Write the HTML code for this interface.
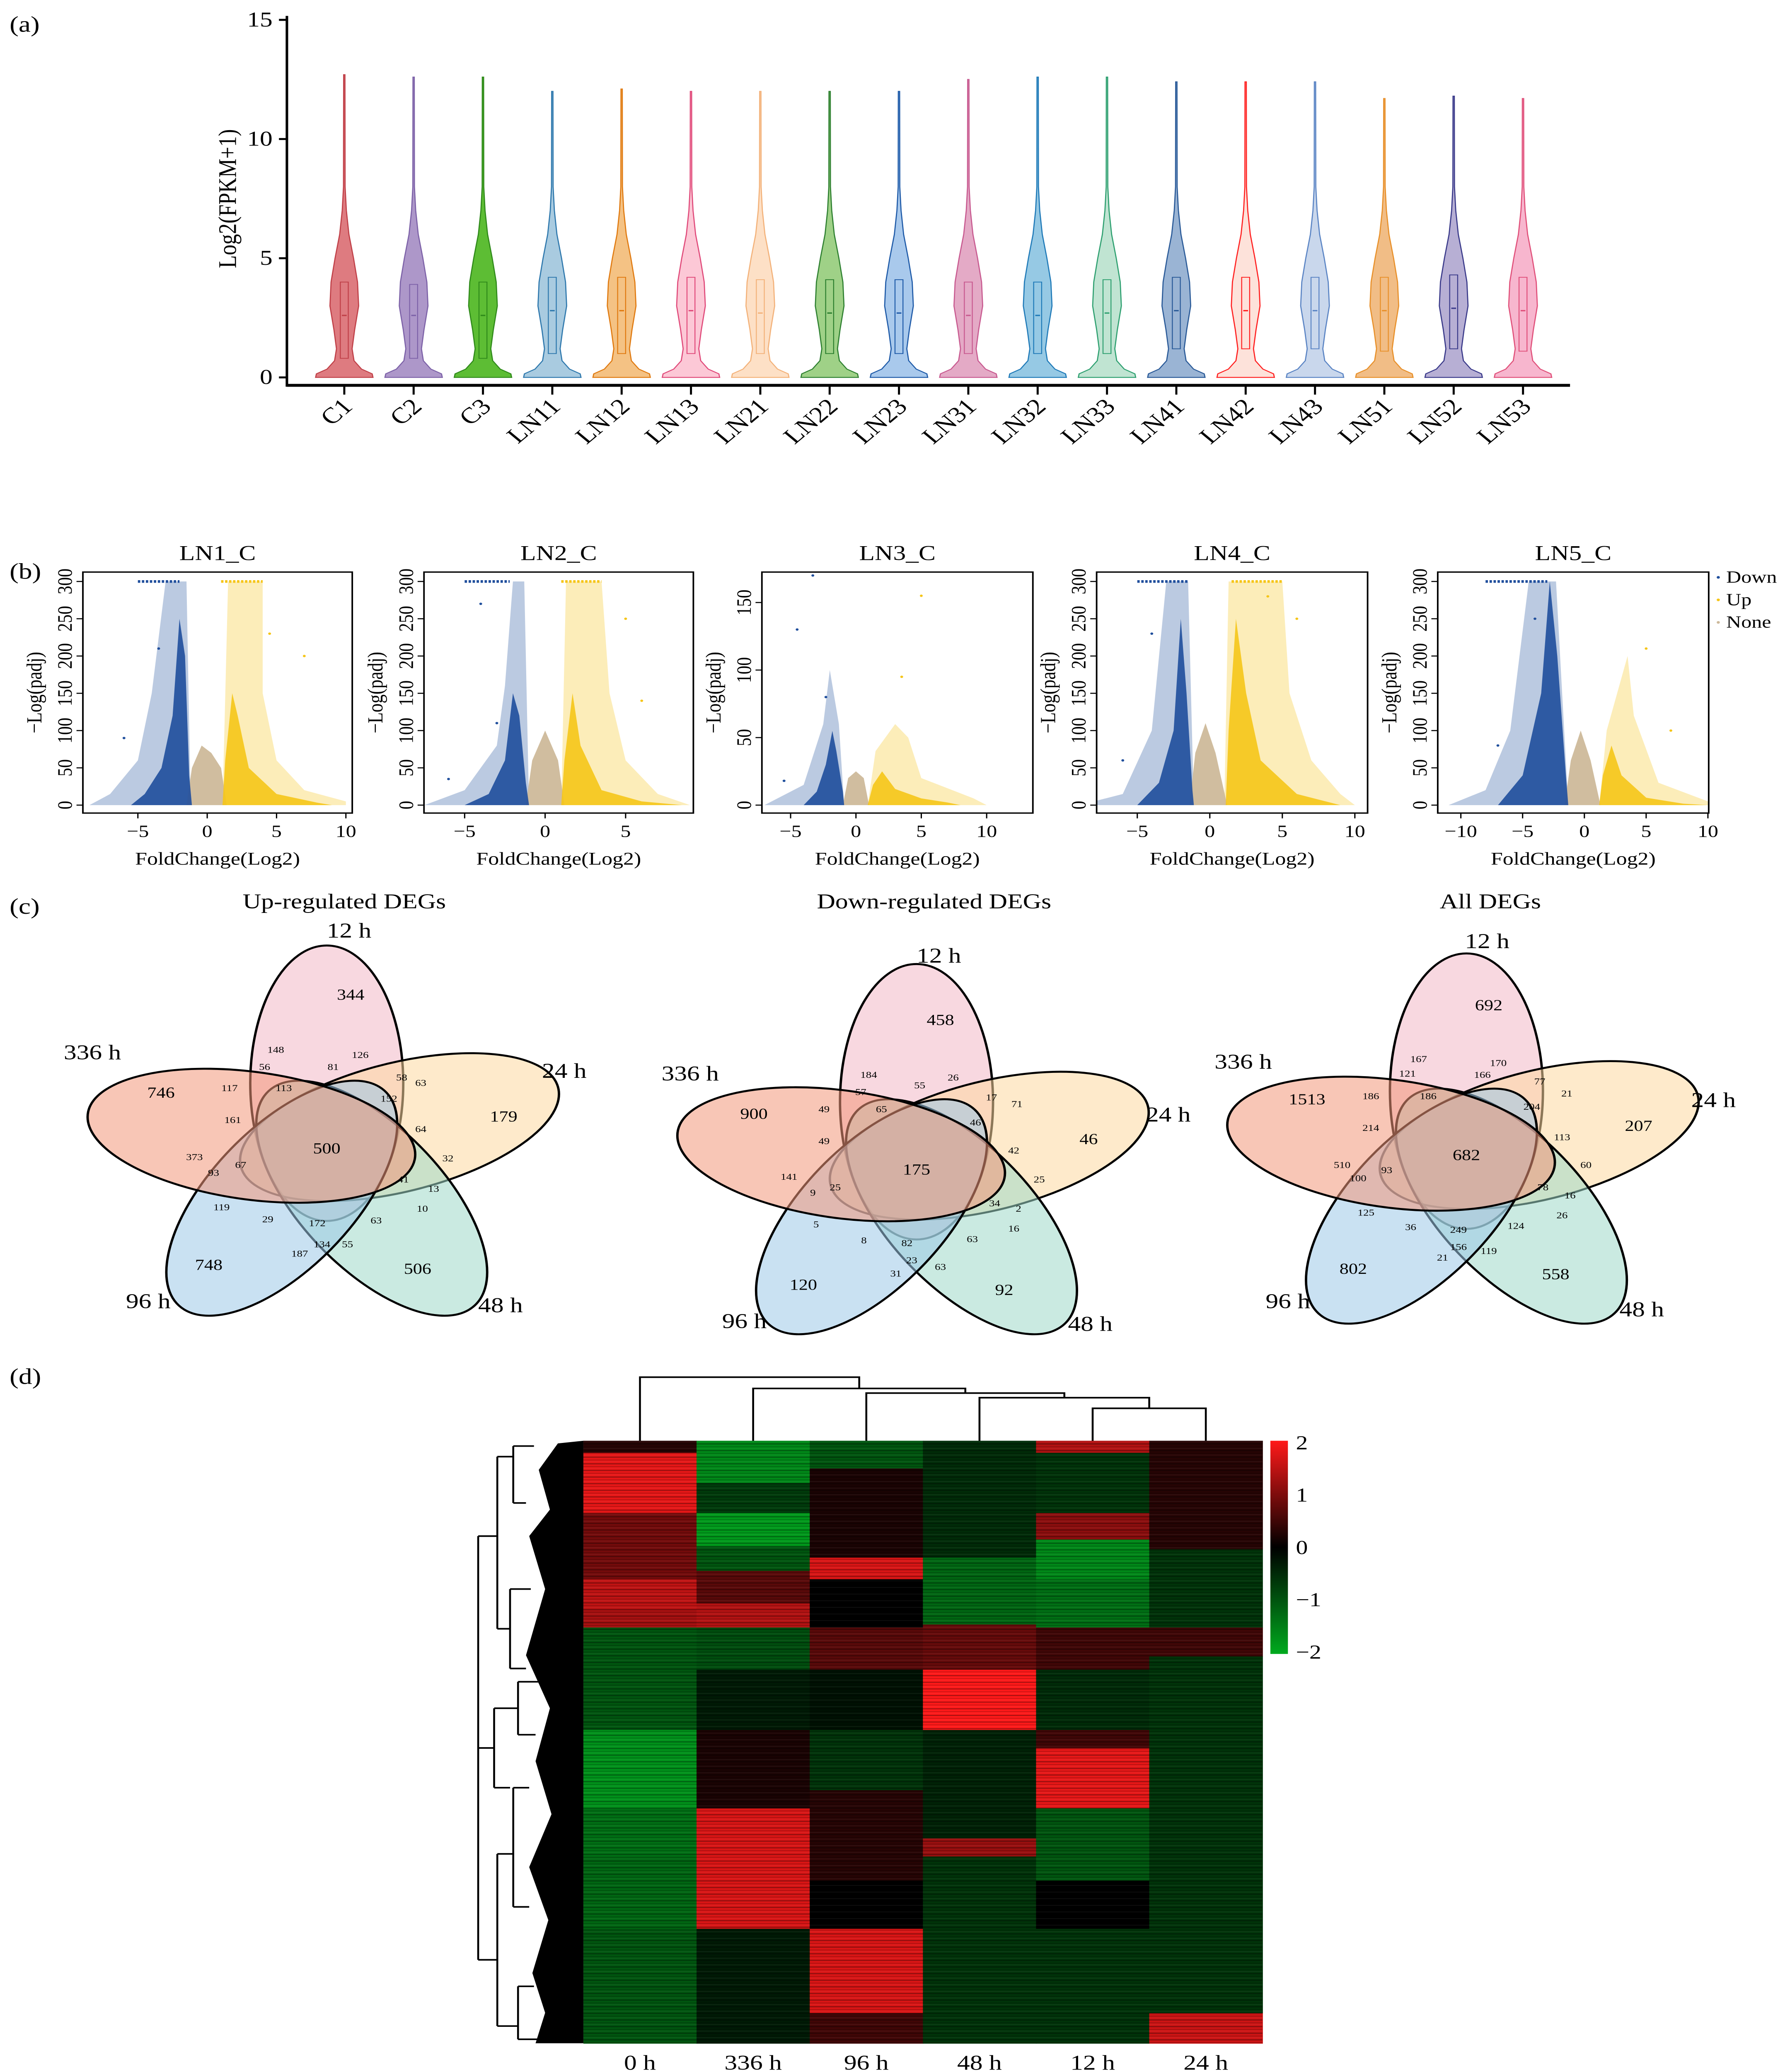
<!DOCTYPE html>
<html><head><meta charset="utf-8"><title>Figure</title>
<style>html,body{margin:0;padding:0;background:#fff;width:100%;height:100%;overflow:hidden}svg{display:block;width:100vw;height:100vh}text{font-family:"Liberation Serif",serif}</style>
</head><body>
<svg id="fig" xmlns="http://www.w3.org/2000/svg" viewBox="0 0 1123 1564.7" preserveAspectRatio="none">
<rect x="0" y="0" width="1123" height="1565" fill="#fff"/>
<text x="6" y="24" font-size="17">(a)</text>
<text x="6" y="437" font-size="17">(b)</text>
<text x="6" y="690" font-size="17">(c)</text>
<text x="6" y="1045" font-size="17">(d)</text>
<g id="ga"></g>
<g id="gb"></g>
<g id="gc"></g>
<g id="gd"></g>
</svg>
<script>
const NS="http://www.w3.org/2000/svg";
function mk(tag,attrs,parent,txt){const e=document.createElementNS(NS,tag);for(const k in attrs)e.setAttribute(k,attrs[k]);if(txt!==undefined)e.textContent=txt;parent.appendChild(e);return e;}

// ---------- (a) violin data ----------
const violinNames=["C1","C2","C3","LN11","LN12","LN13","LN21","LN22","LN23","LN31","LN32","LN33","LN41","LN42","LN43","LN51","LN52","LN53"];
const violinMax=[12.7,12.6,12.6,12.0,12.1,12.0,12.0,12.0,12.0,12.5,12.6,12.6,12.4,12.4,12.4,11.7,11.8,11.7];
const violinMedian=[2.6,2.6,2.6,2.8,2.8,2.8,2.7,2.7,2.7,2.6,2.6,2.7,2.8,2.8,2.8,2.8,2.9,2.8];
const violinQ1=[0.8,0.8,0.8,1.0,1.0,1.0,1.0,1.0,1.0,1.0,1.0,1.0,1.2,1.2,1.2,1.1,1.2,1.1];
const violinQ3=[4.0,3.9,4.0,4.2,4.2,4.2,4.1,4.1,4.1,4.0,4.0,4.1,4.2,4.2,4.2,4.2,4.3,4.2];
const violinFill=["#de7b80","#ad97c9","#5dbd34","#a9cbe0","#f4c284","#fcc8d6","#fde0c6","#9fd187","#a9c9ec","#e4aac6","#96c9e4","#c0e4d2","#9ab4d4","#fde2da","#c9d7ec","#f1bd86","#b7afd4","#f7b6ce"];
const violinStroke=["#c04048","#7d62a8","#2f8a1a","#2e78ad","#e07a10","#e04a7a","#f3b27a","#2e8030","#1e5aa8","#c85a90","#1f7ab8","#2ea070","#2a5a98","#ff2020","#5a84c4","#e8902a","#3a3a8a","#e0507a"];
const yTicksA=[0,5,10,15];
const ax=180, ay0=285, aky=18;
function yA(v){return ay0-v*aky;}
function xA(i){return 216+i*43.5;}
(function(){
 const g=document.getElementById('ga');
 let l=mk('line',{x1:ax,y1:12,x2:ax,y2:292,stroke:'#000','stroke-width':1.6},g);
 
 
 l=mk('line',{x1:ax,y1:291,x2:985,y2:291,stroke:'#000','stroke-width':2.2},g);
 
 
 yTicksA.forEach(v=>{
  mk('line',{x1:ax-5,y1:yA(v),x2:ax,y2:yA(v),stroke:'#000','stroke-width':1.5},g);
  const t=mk('text',{x:ax-9,y:yA(v)+5,'font-size':16,'text-anchor':'end'},g,String(v));
  
  
 });
 const yl=mk('text',{x:0,y:0,'font-size':16,'text-anchor':'middle',transform:`translate(148,${yA(7.5)}) rotate(-90)`},g,'Log2(FPKM+1)');
 
 
 const prof=[[0,1],[0.15,0.97],[0.35,0.6],[0.7,0.34],[1.2,0.27],[2,0.36],[3,0.5],[4,0.46],[5,0.32],[6,0.16],[7,0.07],[8,0.03]];
 violinNames.forEach((nm,i)=>{
  const cx=xA(i), hw=18;
  let right=prof.map(p=>[cx+p[1]*hw,yA(p[0])]);
  let d='M'+cx+','+yA(0);
  right.forEach(p=>d+=' L'+p[0].toFixed(1)+','+p[1].toFixed(1));
  d+=' L'+(cx+0.4)+','+yA(violinMax[i])+' L'+(cx-0.4)+','+yA(violinMax[i]);
  for(let k=prof.length-1;k>=0;k--)d+=' L'+(cx-prof[k][1]*hw).toFixed(1)+','+yA(prof[k][0]).toFixed(1);
  d+=' Z';
  const v=mk('path',{d:d,fill:violinFill[i],stroke:violinStroke[i],'stroke-width':0.7},g);
  
  
  const b=mk('rect',{x:cx-2.5,y:yA(violinQ3[i]),width:5,height:(violinQ3[i]-violinQ1[i])*aky,fill:'none',stroke:violinStroke[i],'stroke-width':0.6},g);
  
  
  mk('line',{x1:cx-1.5,x2:cx+1.5,y1:yA(violinMedian[i]),y2:yA(violinMedian[i]),stroke:violinStroke[i],'stroke-width':1},g);
  mk('line',{x1:cx,x2:cx,y1:291,y2:298,stroke:'#000','stroke-width':1.3},g);
  const t=mk('text',{x:0,y:0,'font-size':17,'text-anchor':'end',transform:`translate(${cx+6},${308}) rotate(-45)`},g,nm);
  
  
 });
})();

// ---------- (b) volcano data ----------
const volcanoTitles=["LN1_C","LN2_C","LN3_C","LN4_C","LN5_C"];
const volcanoXTicks=[[-5,0,5,10],[-5,0,5],[-5,0,5,10],[-5,0,5,10],[-10,-5,0,5,10]];
const volcanoYTicks=[[0,50,100,150,200,250,300],[0,50,100,150,200,250,300],[0,50,100,150],[0,50,100,150,200,250,300],[0,50,100,150,200,250,300]];
const blueHalo=[
 [[-8.5,0],[-7,15],[-5,60],[-4,150],[-3,300],[-1.5,300],[-1.2,0]],
 [[-7.5,0],[-5,20],[-3,80],[-2.5,160],[-2,300],[-1.3,300],[-1,0]],
 [[-7,0],[-4,15],[-2.5,60],[-2,100],[-1.3,60],[-0.9,0]],
 [[-9,0],[-6,15],[-4,100],[-3,300],[-1.5,300],[-1.1,0]],
 [[-11,0],[-8,20],[-6,100],[-4.5,300],[-2.3,300],[-1.3,0]]];
const blueCore=[
 [[-5.5,0],[-4.5,15],[-3.3,50],[-2.5,120],[-2.0,250],[-1.6,200],[-1.3,40],[-1.1,0]],
 [[-5,0],[-3.5,15],[-2.5,60],[-2,150],[-1.6,120],[-1.2,30],[-1,0]],
 [[-4,0],[-3,10],[-2.3,30],[-1.8,55],[-1.5,40],[-1,10],[-0.9,0]],
 [[-5,0],[-3.5,30],[-2.5,100],[-2,250],[-1.6,150],[-1.2,20],[-1.1,0]],
 [[-7,0],[-5,40],[-3.5,150],[-2.8,300],[-2.2,200],[-1.5,40],[-1.3,0]]];
const tanCore=[
 [[-1.5,0],[-1.1,50],[-0.4,80],[0.3,70],[1,50],[1.4,0]],
 [[-1.2,0],[-0.8,60],[0,100],[0.8,60],[1.2,0]],
 [[-1,0],[-0.6,20],[0,25],[0.6,20],[1,0]],
 [[-1.4,0],[-1,70],[-0.3,110],[0.4,70],[1.2,0]],
 [[-1.6,0],[-1.1,60],[-0.3,100],[0.5,60],[1.3,0]]];
const yellowHalo=[
 [[1.1,0],[1.5,300],[4,300],[4,150],[5,60],[7,20],[10,5],[10,0]],
 [[1,0],[1.3,300],[3.5,300],[4,150],[5,60],[7,15],[9,0]],
 [[0.9,0],[1.5,40],[3,60],[4,50],[5,20],[9,5],[10,0]],
 [[1,0],[1.3,300],[5,300],[5.5,150],[7,60],[9,15],[10,0]],
 [[1.2,0],[1.8,100],[3.5,200],[4,120],[6,30],[10,5],[10.5,0]]];
const yellowCore=[
 [[1.1,0],[1.3,60],[1.8,150],[2.2,120],[3,50],[5,15],[8,3],[9,0]],
 [[1,0],[1.2,60],[1.7,150],[2.2,80],[3.5,20],[6,5],[8.5,0]],
 [[0.9,0],[1.3,15],[2,25],[3,12],[5,5],[7,2],[8,0]],
 [[1.1,0],[1.3,100],[1.8,250],[2.5,150],[3.5,60],[6,15],[9,0]],
 [[1.2,0],[1.5,40],[2.2,80],[3,40],[5,10],[8,2],[10,0]]];
const blueCap=[[-5,-2],[-5,-2.2],null,[-5,-1.5],[-8,-3]];
const yellowCap=[[1,4],[1,3.5],null,[1.5,5],null];
const outliers=[[[-6,90],[-3.5,210],[4.5,230],[7,200]],[[-6,35],[-4,270],[-3,110],[5,250],[6,140]],[[-4.5,130],[-3.3,170],[-2.3,80],[3.5,95],[5,155],[-5.5,18]],[[-6,60],[-4,230],[6,250],[4,280]],[[-7,80],[-4,250],[5,210],[7,100]]];
const boxes=[[52,432,221,614],[266,432,435,614],[478,432,648,614],[688,432,858,614],[902,432,1072,614]];
const vx0=[130,342,537,759,994], vux=[8.7,10.1,8.2,9.1,7.75], vuy=[0.563,0.563,1.02,0.563,0.563];
(function(){
 const g=document.getElementById('gb');
 boxes.forEach((bx,p)=>{
  const X=v=>vx0[p]+v*vux[p], Y=v=>608-v*vuy[p];
  const gp=mk('g',{},g);
  
  
  const cp=mk('clipPath',{id:'cp'+p},gp);
  mk('rect',{x:bx[0],y:bx[1],width:bx[2]-bx[0],height:bx[3]-bx[1]},cp);
  const gg=mk('g',{'clip-path':`url(#cp${p})`},gp);
  const poly=(arr,col,op,nm)=>{const e=mk('polygon',{points:arr.map(q=>X(q[0]).toFixed(1)+','+Y(q[1]).toFixed(1)).join(' '),fill:col,'fill-opacity':op},gg);
   
   };
  poly(blueHalo[p],'#1f4e9c',0.3,'down-points-sparse');
  poly(yellowHalo[p],'#f5c518',0.3,'up-points-sparse');
  poly(tanCore[p],'#cdb99a',0.95,'none-points');
  poly(blueCore[p],'#1f4e9c',0.9,'down-points-dense');
  poly(yellowCore[p],'#f5c518',0.9,'up-points-dense');
  if(blueCap[p]){const e=mk('line',{x1:X(blueCap[p][0]),x2:X(blueCap[p][1]),y1:Y(300),y2:Y(300),stroke:'#1f4e9c','stroke-width':2,'stroke-dasharray':'1.5 1'},gg);
   
   }
  if(yellowCap[p]){const e=mk('line',{x1:X(yellowCap[p][0]),x2:X(yellowCap[p][1]),y1:Y(300),y2:Y(300),stroke:'#f5c518','stroke-width':2,'stroke-dasharray':'1.5 1'},gg);
   
   }
  outliers[p].forEach(o=>{const e=mk('circle',{cx:X(o[0]),cy:Y(o[1]),r:0.9,fill:o[0]<0?'#1f4e9c':'#f5c518'},gg);
   
   });
  const fr=mk('rect',{x:bx[0],y:bx[1],width:bx[2]-bx[0],height:bx[3]-bx[1],fill:'none',stroke:'#000','stroke-width':1},gp);
  
  
  volcanoXTicks[p].forEach(v=>{mk('line',{x1:X(v),x2:X(v),y1:bx[3],y2:bx[3]+4,stroke:'#000','stroke-width':0.8},gp);
   const t=mk('text',{x:X(v),y:bx[3]+18,'font-size':13,'text-anchor':'middle'},gp,v<0?'\u2212'+(-v):String(v));
   
   });
  volcanoYTicks[p].forEach(v=>{mk('line',{x1:bx[0]-4,x2:bx[0],y1:Y(v),y2:Y(v),stroke:'#000','stroke-width':0.8},gp);
   const t=mk('text',{x:0,y:0,'font-size':13,'text-anchor':'middle',transform:`translate(${bx[0]-7},${Y(v)}) rotate(-90)`},gp,String(v));
   
   });
  const xt=mk('text',{x:(bx[0]+bx[2])/2,y:653,'font-size':13.5,'text-anchor':'middle'},gp,'FoldChange(Log2)');
  
  
  const yt=mk('text',{x:0,y:0,'font-size':13.5,'text-anchor':'middle',transform:`translate(${bx[0]-26},${(bx[1]+bx[3])/2}) rotate(-90)`},gp,'\u2212Log(padj)');
  
  
  const tt=mk('text',{x:(bx[0]+bx[2])/2,y:423,'font-size':16,'text-anchor':'middle'},gp,volcanoTitles[p]);
  
  
 });
 [['Down','#1f4e9c',440],['Up','#f5c518',457],['None','#cdb99a',474]].forEach(L=>{
  const c=mk('circle',{cx:1078,cy:L[2]-4,r:1,fill:L[1]},g);
  
  
  const t=mk('text',{x:1083,y:L[2],'font-size':13},g,L[0]);
  
  
 });
})();

// ---------- (c) Venn ----------
const vennTitles=["Up-regulated DEGs","Down-regulated DEGs","All DEGs"];
const vennCenters=[[205,866],[575,880],[920,872]];
const vennSetLabels=[
 [["12 h",219,708],["24 h",354,814],["48 h",314,991],["96 h",93,988],["336 h",58,800]],
 [["12 h",589,727],["24 h",733,847],["48 h",684,1005],["96 h",467,1003],["336 h",433,816]],
 [["12 h",933,716],["24 h",1075,836],["48 h",1030,994],["96 h",808,988],["336 h",780,807]]];
const vennBig=[
 [["344",220,755],["746",101,829],["179",316,847],["748",131,959],["506",262,962],["500",205,871]],
 [["458",590,774],["900",473,845],["46",683,864],["120",504,974],["92",630,978],["175",575,887]],
 [["692",934,763],["1513",820,834],["207",1028,854],["802",849,962],["558",976,966],["682",920,876]]];
const vennSmall=[
 [["148",173,795],["126",226,799],["56",166,808],["81",209,808],["58",252,816],["117",144,824],["113",178,824],["152",244,832],["63",264,820],["161",146,848],["64",264,855],["32",281,877],["373",122,876],["93",134,888],["67",151,882],["41",253,893],["13",272,900],["119",139,914],["10",265,915],["63",236,924],["29",168,923],["172",199,926],["55",218,942],["134",202,942],["187",188,949]],
 [["184",545,814],["55",577,822],["26",598,816],["57",540,827],["65",553,840],["17",622,831],["71",638,836],["49",517,840],["46",612,850],["49",517,864],["42",636,871],["25",652,893],["141",495,891],["25",524,899],["9",510,903],["34",624,911],["2",639,915],["16",636,930],["63",610,938],["5",512,927],["8",542,939],["82",569,941],["23",572,954],["31",562,964],["63",590,959]],
 [["167",890,802],["170",940,805],["121",883,813],["77",966,819],["186",860,830],["186",896,830],["166",930,814],["21",983,828],["204",961,838],["214",860,854],["113",980,861],["510",842,882],["60",995,882],["100",852,892],["93",870,886],["78",968,899],["16",985,905],["125",857,918],["26",980,920],["124",951,928],["36",885,929],["249",915,931],["156",915,944],["119",934,947],["21",905,952]]];
const vennFills=["#f2b8c6","#fdd9a0","#9fd8c8","#9cc8e8","#f2977a"];
const vennSets=["12h","24h","48h","96h","336h"];
(function(){
 const g=document.getElementById('gc');
 vennCenters.forEach((c,vi)=>{
  const gv=mk('g',{},g);
  
  
  const t=mk('text',{x:[216,586,935][vi],y:686,'font-size':16,'text-anchor':'middle'},gv,vennTitles[vi]);
  
  
  for(let k=0;k<5;k++){
   const e=mk('ellipse',{cx:c[0],cy:c[1]-48,rx:48,ry:104,fill:vennFills[k],'fill-opacity':0.55,stroke:'#000','stroke-width':1.5,transform:`rotate(${k*72+(k==4?-8:0)},${c[0]},${c[1]})`},gv);
   
   
  }
  vennSetLabels[vi].forEach(s=>{const e=mk('text',{x:s[1],y:s[2],'font-size':16,'text-anchor':'middle'},gv,s[0]);
   
   });
  vennBig[vi].forEach(s=>{const e=mk('text',{x:s[1],y:s[2],'font-size':11.5,'text-anchor':'middle'},gv,s[0]);
   
   });
  vennSmall[vi].forEach(s=>{const e=mk('text',{x:s[1],y:s[2],'font-size':7,'text-anchor':'middle'},gv,s[0]);
   
   });
 });
})();

// ---------- (d) heatmap ----------
const heatCols=["0 h","336 h","96 h","48 h","12 h","24 h"];
const heatSegStart=[
 [0,0.02,0.12,0.23,0.28,0.31,0.48,0.61,0.69,0.81],
 [0,0.07,0.12,0.175,0.216,0.27,0.31,0.38,0.48,0.61,0.81],
 [0,0.046,0.194,0.23,0.31,0.38,0.48,0.58,0.73,0.81,0.95],
 [0,0.194,0.305,0.38,0.48,0.66,0.69],
 [0,0.02,0.12,0.164,0.23,0.31,0.38,0.48,0.51,0.61,0.73,0.81],
 [0,0.18,0.31,0.358,0.95]];
const heatSegValue=[
 [0.3,1.8,0.9,1.5,1.3,-1.0,-1.7,-1.3,-1.2,-1.0],
 [-1.6,-0.7,-1.8,-1.0,0.7,1.4,-0.9,-0.3,0.2,1.7,-0.3],
 [-1.0,0.2,1.7,0.0,0.7,-0.2,-0.6,0.3,0.0,1.7,0.5],
 [-0.5,-1.2,0.8,2.0,-0.4,1.2,-0.6],
 [1.4,-0.6,1.1,-1.6,-1.3,0.5,-0.5,0.5,1.8,-1.0,0.0,-0.6],
 [0.3,-0.6,0.5,-0.6,1.6]];
const cbTicks=[2,1,0,-1,-2];
const hx0=366,hx1=792,hy0=1088,hy1=1543;
function colorOf(v){v=Math.max(-2,Math.min(2,v));if(v>=0){const t=v/2;return `rgb(${Math.round(255*t)},${Math.round(25*t)},${Math.round(25*t)})`;}const t=-v/2;return `rgb(0,${Math.round(170*t)},${Math.round(30*t)})`;}
(function(){
 const g=document.getElementById('gd');
 const cw=(hx1-hx0)/heatCols.length;
 const defs=mk('defs',{},g);
 const pat=mk('pattern',{id:'stripes',width:10,height:5,patternUnits:'userSpaceOnUse'},defs);
 mk('rect',{x:0,y:0,width:10,height:0.8,fill:'#000','fill-opacity':0.35},pat);
 mk('rect',{x:0,y:2.3,width:10,height:0.5,fill:'#000','fill-opacity':0.25},pat);
 mk('rect',{x:0,y:3.6,width:10,height:0.4,fill:'#fff','fill-opacity':0.08},pat);
 heatCols.forEach((nm,ci)=>{
  const st=heatSegStart[ci], vals=heatSegValue[ci];
  for(let s=0;s<st.length;s++){
   const f0=st[s], f1=s+1<st.length?st[s+1]:1;
   const r=mk('rect',{x:hx0+ci*cw,y:hy0+f0*(hy1-hy0),width:cw+0.3,height:(f1-f0)*(hy1-hy0)+0.3,fill:colorOf(vals[s])},g);
   
   
  }
  const t=mk('text',{x:hx0+(ci+0.5)*cw,y:1563,'font-size':16,'text-anchor':'middle'},g,nm);
  
  
 });
 mk('rect',{x:hx0,y:hy0,width:hx1-hx0,height:hy1-hy0,fill:'url(#stripes)'},g);
 const grad=mk('linearGradient',{id:'cbg',x1:0,y1:0,x2:0,y2:1},defs);
 mk('stop',{offset:'0','stop-color':colorOf(2)},grad);
 mk('stop',{offset:'0.5','stop-color':colorOf(0)},grad);
 mk('stop',{offset:'1','stop-color':colorOf(-2)},grad);
 const cb=mk('rect',{x:797,y:1088,width:11,height:161,fill:'url(#cbg)'},g);
 
 
 cbTicks.forEach(v=>{const t=mk('text',{x:813,y:1168.5-v*39.5+5,'font-size':15},g,v<0?'\u2212'+(-v):String(v));
  
  });
 const cx=i=>hx0+(i+0.5)*cw;
 const dd=mk('path',{fill:'none',stroke:'#000','stroke-width':1.2,d:
  `M${cx(4)},1088 V1063.5 H${cx(5)} V1088 M${cx(3)},1088 V1055.5 H${(cx(4)+cx(5))/2} V1063.5 M${cx(2)},1088 V1052 H${(cx(3)+(cx(4)+cx(5))/2)/2} V1055.5 M${cx(1)},1088 V1048.5 H${(cx(2)+(cx(3)+(cx(4)+cx(5))/2)/2)/2} V1052 M${cx(0)},1088 V1040 H${(cx(1)+(cx(2)+(cx(3)+(cx(4)+cx(5))/2)/2)/2)/2} V1048.5`},g);
 
 
 const rd=mk('path',{fill:'none',stroke:'#000','stroke-width':1.2,d:
  'M300,1160 V1480 M300,1160 H312 M300,1480 H312 M312,1100 V1230 M312,1100 H322 M312,1230 H320 M322,1092 V1135 M322,1092 H335 M322,1135 H330 M320,1200 V1260 M320,1200 H333 M320,1260 H330 M312,1400 V1530 M312,1400 H322 M312,1530 H325 M322,1350 V1440 M322,1350 H332 M322,1440 H332 M325,1500 V1540 M325,1500 H335 M325,1540 H340 M300,1320 H310 M310,1290 V1350 M310,1290 H325 M310,1350 H320 M325,1270 V1310 M325,1270 H338 M325,1310 H336'},g);
 
 
 const rb=mk('polygon',{fill:'#000',points:'366,1088 350,1090 338,1110 345,1140 332,1160 342,1200 330,1250 345,1290 336,1330 346,1370 332,1410 344,1450 334,1490 342,1520 336,1543 366,1543'},g);
 
 
})();
</script>
</body></html>
